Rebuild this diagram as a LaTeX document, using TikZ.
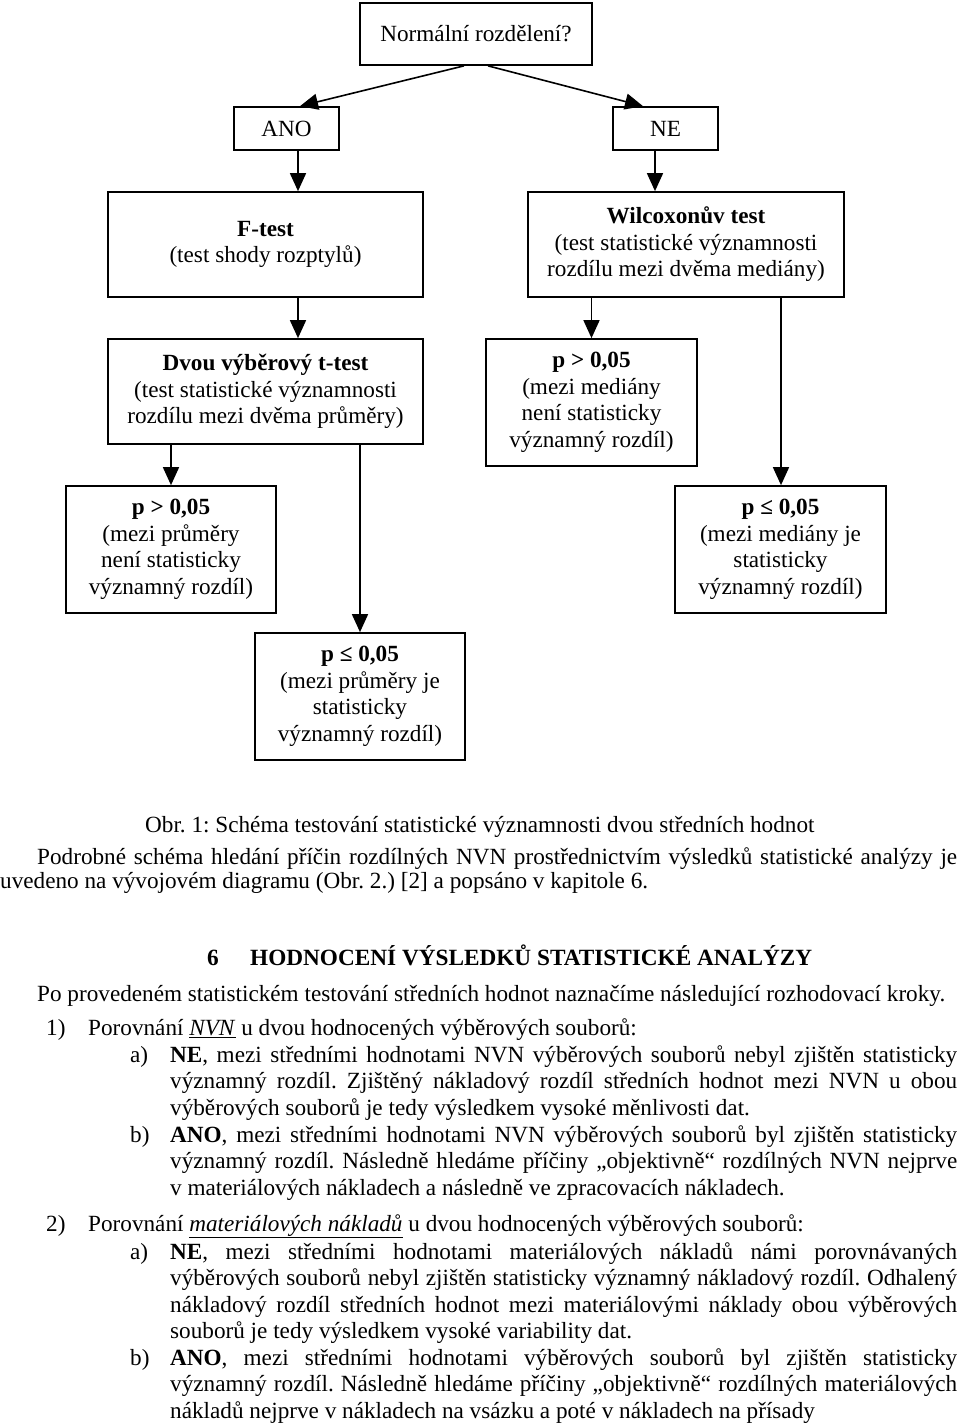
\documentclass[tikz,border=0pt]{standalone}
\usepackage{fontspec}
\setmainfont{Liberation Serif}
\usetikzlibrary{arrows.meta}
\frenchspacing
\newlength\refw
\newlength\refh
\newcommand\jl[4]{\node[txt] (#1) at (#2,#3) {\hbox to \dimexpr957pt-#2pt\relax{#4}};}
\newcommand\pl[4]{\node[txt] (#1) at (#2,#3) {#4};}
\begin{document}
\settowidth\refw{\normalfont\fontsize{10pt}{12pt}\selectfont Po provedeném statistickém testování středních hodnot naznačíme následující rozhodovací kroky.}%
\pgfmathsetmacro\fs{10*908/\refw}%
\settowidth\refh{\normalfont\bfseries\fontsize{10pt}{12pt}\selectfont HODNOCENÍ VÝSLEDKŮ STATISTICKÉ ANALÝZY}%
\pgfmathsetmacro\hs{10*562/\refh}%
\begin{tikzpicture}[x=1pt,y=-1pt,
  box/.style={draw, line width=1.7pt, inner sep=0pt, align=center},
  arr/.style={line width=1.6pt, -{Triangle[length=18pt,width=16pt]}},
  txt/.style={anchor=base west, inner sep=0pt}]
\useasboundingbox (0,0) rectangle (960,1427);
\tikzset{every node/.append style={font=\fontsize{\fs}{26.5}\selectfont}}
% boxes
\node[box, minimum width=232, minimum height=62] (top) at (476,34) {Normální rozdělení?};
\node[box, minimum width=105, minimum height=43] (ano) at (286.5,128.5) {ANO};
\node[box, minimum width=105, minimum height=43] (ne) at (665.5,128.5) {NE};
\node[box, minimum width=315, minimum height=105] (ftest) at (265.5,244.5) {\textbf{F-test}\\(test shody rozptylů)};
\node[box, minimum width=316, minimum height=105] (wilc) at (686,244.5) {\textbf{Wilcoxonův test}\\(test statistické významnosti\\rozdílu mezi dvěma mediány)};
\node[box, minimum width=315, minimum height=105] (ttest) at (265.5,391.5) {\textbf{Dvou výběrový t-test}\\(test statistické významnosti\\rozdílu mezi dvěma průměry)};
\node[box, minimum width=211, minimum height=127] (pmed) at (591.5,402.5) {\textbf{p > 0,05}\\(mezi mediány\\není statisticky\\významný rozdíl)};
\node[box, minimum width=210, minimum height=127] (pmean) at (171,549.5) {\textbf{p > 0,05}\\(mezi průměry\\není statisticky\\významný rozdíl)};
\node[box, minimum width=211, minimum height=127] (plemed) at (780.5,549.5) {\textbf{p ≤ 0,05}\\(mezi mediány je\\statisticky\\významný rozdíl)};
\node[box, minimum width=210, minimum height=127] (plemean) at (360,696.5) {\textbf{p ≤ 0,05}\\(mezi průměry je\\statisticky\\významný rozdíl)};
% x positions of connectors
\coordinate (xa) at (464,0);
\coordinate (xb) at (488,0);
\coordinate (xc) at (300,0);
\coordinate (xd) at (643,0);
\coordinate (xe) at (298,0);
\coordinate (xf) at (655,0);
\coordinate (xg) at (781,0);
\coordinate (xh) at (360,0);
\draw[arr] (top.south -| xa) -- (ano.north -| xc);
\draw[arr] (top.south -| xb) -- (ne.north -| xd);
\draw[arr] (ano.south -| xe) -- (ftest.north -| xe);
\draw[arr] (ne.south -| xf) -- (wilc.north -| xf);
\draw[arr] (ftest.south -| xe) -- (ttest.north -| xe);
\draw[arr] (wilc.south -| pmed.north) -- (pmed.north);
\draw[arr] (wilc.south -| xg) -- (plemed.north -| xg);
\draw[arr] (ttest.south -| pmean.north) -- (pmean.north);
\draw[arr] (ttest.south -| xh) -- (plemean.north -| xh);
% text below
\pl{cap}{145}{832}{Obr. 1: Schéma testování statistické významnosti dvou středních hodnot}
\jl{p1}{37}{864}{Podrobné schéma hledání příčin rozdílných NVN prostřednictvím výsledků statistické analýzy je}
\pl{p2}{0}{888}{uvedeno na vývojovém diagramu (Obr. 2.) [2] a popsáno v kapitole 6.}
\node[txt, font=\fontsize{\hs}{26}\selectfont\bfseries] (hn) at (207,965) {6};
\node[txt, font=\fontsize{\hs}{26}\selectfont\bfseries] (ht) at (250,965) {HODNOCENÍ VÝSLEDKŮ STATISTICKÉ ANALÝZY};
\pl{po}{37}{1001}{Po provedeném statistickém testování středních hodnot naznačíme následující rozhodovací kroky.}
\pl{n1}{46}{1035}{1)}
\pl{n1t}{88}{1035}{Porovnání \underline{\textit{NVN}} u dvou hodnocených výběrových souborů:}
\pl{a1}{130}{1062}{a)}
\jl{a1l1}{170}{1062}{\textbf{NE}, mezi středními hodnotami NVN výběrových souborů nebyl zjištěn statisticky}
\jl{a1l2}{170}{1088}{významný rozdíl. Zjištěný nákladový rozdíl středních hodnot mezi NVN u obou}
\pl{a1l3}{170}{1115}{výběrových souborů je tedy výsledkem vysoké měnlivosti dat.}
\pl{b1}{130}{1142}{b)}
\jl{b1l1}{170}{1142}{\textbf{ANO}, mezi středními hodnotami NVN výběrových souborů byl zjištěn statisticky}
\jl{b1l2}{170}{1168}{významný rozdíl. Následně hledáme příčiny „objektivně“ rozdílných NVN nejprve}
\pl{b1l3}{170}{1195}{v materiálových nákladech a následně ve zpracovacích nákladech.}
\pl{n2}{46}{1231}{2)}
\pl{n2t}{88}{1231}{Porovnání \underline{\textit{materiálových nákladů}} u dvou hodnocených výběrových souborů:}
\pl{a2}{130}{1259}{a)}
\jl{a2l1}{170}{1259}{\textbf{NE}, mezi středními hodnotami materiálových nákladů námi porovnávaných}
\jl{a2l2}{170}{1285}{výběrových souborů nebyl zjištěn statisticky významný nákladový rozdíl. Odhalený}
\jl{a2l3}{170}{1312}{nákladový rozdíl středních hodnot mezi materiálovými náklady obou výběrových}
\pl{a2l4}{170}{1338}{souborů je tedy výsledkem vysoké variability dat.}
\pl{b2}{130}{1365}{b)}
\jl{b2l1}{170}{1365}{\textbf{ANO}, mezi středními hodnotami výběrových souborů byl zjištěn statisticky}
\jl{b2l2}{170}{1391}{významný rozdíl. Následně hledáme příčiny „objektivně“ rozdílných materiálových}
\pl{b2l3}{170}{1418}{nákladů nejprve v nákladech na vsázku a poté v nákladech na přísady}
\end{tikzpicture}
\end{document}
